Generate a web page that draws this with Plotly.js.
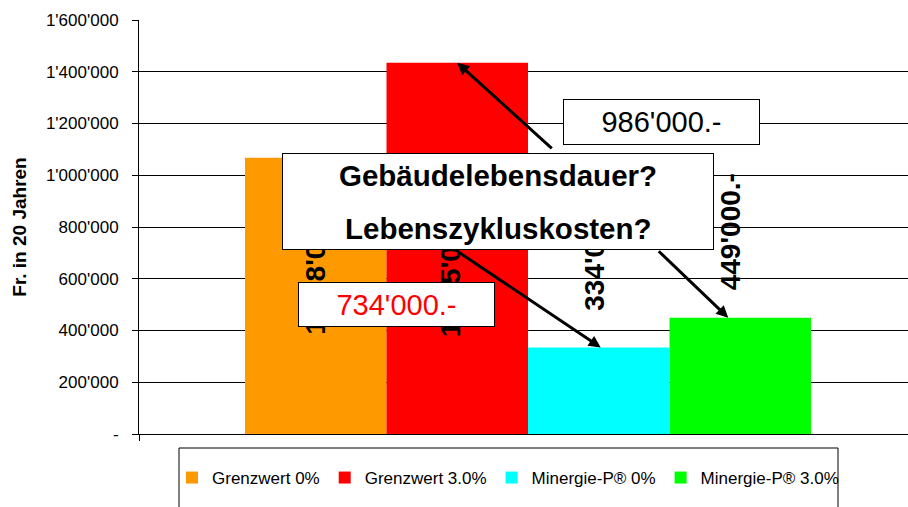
<!DOCTYPE html>
<html><head><meta charset="utf-8">
<script src="https://cdn.plot.ly/plotly-3.0.1.min.js"></script>
<style>html,body{margin:0;padding:0;background:#fff;overflow:hidden}#chart{width:908px;height:507px}</style>
</head><body><div id="chart"></div>
<script>
// ---- data ----
const seriesNames = ['Grenzwert 0%', 'Grenzwert 3.0%', 'Minergie-P® 0%', 'Minergie-P® 3.0%'];
const seriesValues = [1068000, 1435000, 334000, 449000];
const seriesColors = ['#FF9900', '#FF0000', '#00FFFF', '#00FF00'];
const category = ['Lebenszykluskosten'];
const yTickValues = [0, 200000, 400000, 600000, 800000, 1000000, 1200000, 1400000, 1600000];
const yTitle = 'Fr. in 20 Jahren';
const boxLines = ['Gebäudelebensdauer?', 'Lebenszykluskosten?'];

function swiss(v) { return v === 0 ? '-' : String(v).replace(/\B(?=(\d{3})+(?!\d))/g, "'"); }
const yTickText = yTickValues.map(swiss);
const diffGrenz = seriesValues[0] - seriesValues[2];
const diffMin = seriesValues[1] - seriesValues[3];

// ---- geometry ----
const ML = 139, MT = 20, PW = 769, PH = 414;
const xp = px => (px - ML) / PW;
const yp = py => (MT + PH - py) / PH;
const BARGAP = 0.2725;
const XR = [-0.5, 0.4884];
const groupW = 1 - BARGAP, bw = groupW / 4;
const center = i => -groupW / 2 + (i + 0.5) * bw;
const FONT = 'Liberation Sans, Arial, sans-serif';
const C = { xanchor: 'center', yanchor: 'middle' };

const traces = seriesNames.map((n, i) => ({
  type: 'bar', name: n, x: category, y: [seriesValues[i]],
  marker: { color: seriesColors[i], line: { width: 0 } }, hoverinfo: 'skip'
}));

const annotations = [];
// rotated value labels
const labelY = [265, 268, 252, 232];
const labelShift = [-1, -7, -5, -10];
seriesValues.forEach((v, i) => {
  annotations.push(Object.assign({
    xref: 'x', yref: 'paper', x: center(i), y: yp(labelY[i]), xshift: labelShift[i],
    text: '<b>' + swiss(v) + '.-</b>', textangle: -90, showarrow: false,
    font: { family: FONT, size: 28, color: '#000' }
  }, C));
});
// main question box
annotations.push(Object.assign({
  xref: 'paper', yref: 'paper', x: xp(498), y: yp(201.5), text: ' ', showarrow: false,
  width: 430, height: 95, bgcolor: '#fff', bordercolor: '#000', borderwidth: 1, borderpad: 0,
  font: { family: FONT, size: 10 }
}, C));
[175, 228].forEach((py, k) => annotations.push(Object.assign({
  xref: 'paper', yref: 'paper', x: xp(498), y: yp(py), text: '<b>' + boxLines[k] + '</b>',
  showarrow: false, font: { family: FONT, size: 29.5, color: '#000' }
}, C)));
// difference boxes
annotations.push(Object.assign({
  xref: 'paper', yref: 'paper', x: xp(396.5), y: yp(304.5), text: swiss(diffGrenz) + '.-',
  showarrow: false, width: 195, height: 43, bgcolor: '#fff', bordercolor: '#000', borderwidth: 1, borderpad: 0,
  font: { family: FONT, size: 29, color: '#FF0000' }
}, C));
annotations.push(Object.assign({
  xref: 'paper', yref: 'paper', x: xp(661.5), y: yp(122), text: swiss(diffMin) + '.-',
  showarrow: false, width: 195, height: 44, bgcolor: '#fff', bordercolor: '#000', borderwidth: 1, borderpad: 0,
  font: { family: FONT, size: 29, color: '#000' }
}, C));
// arrows
const arrowDefs = [
  { i: 1, ax: 96, ay: 87, xs: 0 },
  { i: 2, ax: -143, ay: -96, xs: 2 },
  { i: 3, ax: -71, ay: -68, xs: -12 }
];
arrowDefs.forEach(a => annotations.push({
  xref: 'x', yref: 'y', x: center(a.i), y: seriesValues[a.i], xshift: a.xs, text: '',
  showarrow: true, ax: a.ax, ay: a.ay, arrowhead: 2, arrowsize: 0.8, arrowwidth: 3,
  arrowcolor: '#000', standoff: 0
}));

const layout = {
  width: 908, height: 507,
  margin: { l: ML, r: 0, t: MT, b: 507 - MT - PH, pad: 0 },
  paper_bgcolor: '#fff', plot_bgcolor: '#fff',
  font: { family: FONT, color: '#000' },
  barmode: 'group', bargap: BARGAP, bargroupgap: 0,
  showlegend: true,
  legend: {
    orientation: 'h', x: xp(172), y: yp(460), xanchor: 'left', yanchor: 'top',
    font: { family: FONT, size: 17, color: '#000' }, bgcolor: 'rgba(0,0,0,0)', borderwidth: 0,
    traceorder: 'normal'
  },
  xaxis: {
    type: 'category', range: XR, showticklabels: false, showgrid: false, zeroline: false,
    showline: true, linecolor: '#000', linewidth: 1,
    ticks: 'outside', tickson: 'boundaries', ticklen: 6, tickcolor: '#000', fixedrange: true
  },
  yaxis: {
    range: [0, 1600000], tickvals: yTickValues, ticktext: yTickText,
    showline: true, linecolor: '#000', linewidth: 1,
    ticks: 'outside', ticklen: 6, tickcolor: '#000', ticklabelstandoff: 10,
    showgrid: true, gridcolor: '#000', gridwidth: 1, zeroline: false,
    tickfont: { family: FONT, size: 17, color: '#000' },
    title: { text: '<b>' + yTitle + '</b>', font: { family: FONT, size: 19, color: '#000' }, standoff: 14 },
    automargin: false, fixedrange: true
  },
  shapes: [{
    type: 'rect', xref: 'paper', yref: 'paper', x0: xp(179), x1: xp(838), y0: yp(448), y1: yp(530),
    line: { color: '#000', width: 1 }, fillcolor: 'rgba(0,0,0,0)', layer: 'above'
  }],
  annotations: annotations
};

Plotly.newPlot('chart', traces, layout, { staticPlot: true, displayModeBar: false });
</script>
</body></html>
